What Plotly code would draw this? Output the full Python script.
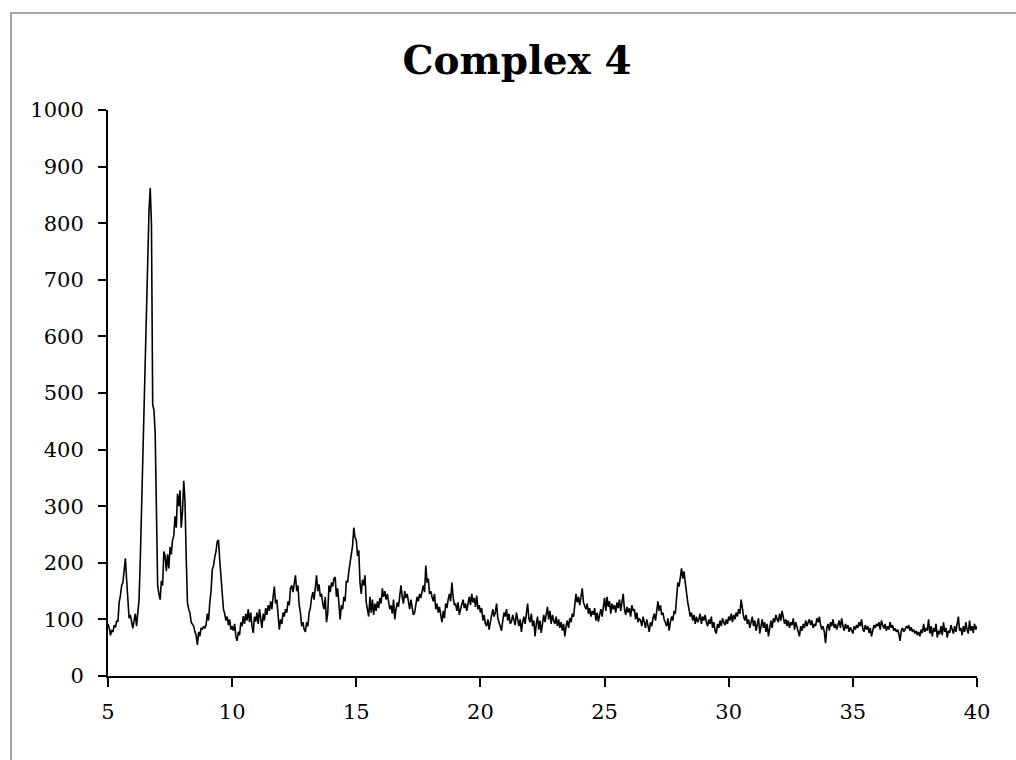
import plotly.graph_objects as go

# Powder XRD scan of complex 4: 2-theta from 5 to 40 deg, step 0.05 deg
two_theta_start = 5.0
two_theta_step = 0.05

# Intensity readings, one row per degree of 2-theta (20 readings each)
intensity_rows = [
    [92, 85, 72, 80, 78, 90, 86, 98, 96, 130, 142, 160, 165, 195, 208, 170, 125, 102, 108, 92],            # 5
    [84, 98, 110, 88, 112, 135, 205, 300, 365, 450, 550, 640, 720, 820, 862, 800, 480, 470, 430, 240],      # 6
    [160, 145, 135, 168, 160, 220, 212, 185, 215, 190, 228, 215, 240, 248, 282, 262, 322, 300, 328, 262],   # 7
    [290, 345, 310, 210, 130, 118, 112, 95, 92, 88, 78, 72, 55, 78, 70, 85, 82, 88, 84, 90],                # 8
    [110, 98, 130, 150, 188, 195, 210, 220, 238, 240, 205, 175, 150, 118, 110, 98, 105, 90, 100, 82],       # 9
    [88, 80, 92, 70, 62, 78, 72, 95, 88, 106, 92, 110, 98, 118, 95, 112, 88, 76, 105, 96],                  # 10
    [112, 92, 118, 100, 85, 110, 98, 120, 108, 125, 115, 132, 118, 140, 158, 128, 135, 108, 82, 100],       # 11
    [92, 112, 105, 118, 112, 132, 125, 155, 160, 148, 165, 178, 150, 160, 125, 112, 88, 95, 82, 78],        # 12
    [95, 88, 112, 120, 138, 148, 135, 165, 178, 150, 162, 140, 145, 128, 118, 140, 95, 110, 160, 148],      # 13
    [165, 158, 172, 175, 140, 155, 118, 100, 125, 118, 140, 132, 168, 165, 185, 200, 208, 230, 262, 245],   # 14
    [240, 212, 222, 165, 145, 170, 160, 178, 130, 115, 105, 140, 112, 135, 108, 128, 115, 132, 120, 138],   # 15
    [128, 155, 140, 150, 135, 145, 128, 118, 125, 110, 135, 100, 118, 130, 122, 148, 160, 140, 128, 150],   # 16
    [138, 145, 130, 118, 135, 120, 108, 112, 128, 140, 132, 145, 138, 150, 160, 148, 195, 165, 172, 145],   # 17
    [150, 140, 132, 145, 118, 128, 112, 122, 105, 95, 115, 102, 128, 120, 135, 145, 132, 165, 140, 125],    # 18
    [128, 115, 130, 108, 118, 125, 135, 120, 128, 115, 132, 140, 125, 145, 130, 138, 122, 142, 118, 125],   # 19
    [112, 120, 98, 108, 92, 88, 100, 82, 95, 110, 118, 105, 112, 128, 102, 95, 85, 80, 98, 112],            # 20
    [105, 118, 98, 110, 92, 96, 108, 100, 90, 112, 95, 88, 100, 78, 95, 105, 92, 115, 128, 102],            # 21
    [95, 110, 88, 98, 70, 92, 105, 82, 98, 76, 90, 108, 95, 112, 122, 100, 115, 92, 108, 98],               # 22
    [92, 105, 88, 100, 85, 95, 80, 92, 70, 88, 98, 85, 102, 95, 110, 105, 122, 145, 130, 140],              # 23
    [125, 138, 155, 130, 122, 118, 128, 110, 120, 105, 115, 108, 120, 98, 112, 96, 108, 118, 105, 128],     # 24
    [138, 115, 140, 122, 132, 110, 128, 118, 125, 112, 130, 120, 135, 115, 128, 145, 118, 108, 122, 112],   # 25
    [120, 105, 125, 115, 118, 100, 112, 95, 102, 98, 88, 105, 95, 85, 100, 90, 78, 95, 88, 102],            # 26
    [110, 98, 120, 132, 115, 125, 108, 112, 100, 95, 88, 102, 80, 95, 105, 98, 115, 110, 140, 165],         # 27
    [158, 175, 190, 172, 185, 165, 145, 130, 118, 105, 112, 98, 108, 92, 105, 95, 100, 110, 92, 105],       # 28
    [98, 108, 95, 88, 100, 92, 105, 85, 95, 80, 75, 92, 85, 98, 88, 102, 95, 90, 100, 92],                  # 29
    [105, 98, 110, 95, 108, 100, 112, 105, 118, 110, 135, 115, 105, 98, 108, 92, 100, 85, 95, 105],         # 30
    [88, 98, 80, 95, 102, 75, 90, 100, 85, 95, 78, 92, 70, 88, 98, 85, 102, 95, 108, 100],                  # 31
    [95, 110, 98, 115, 105, 92, 100, 88, 98, 85, 95, 90, 102, 82, 95, 85, 78, 70, 88, 80],                  # 32
    [92, 85, 98, 88, 95, 100, 90, 98, 85, 92, 88, 102, 95, 105, 90, 82, 88, 78, 58, 85],                    # 33
    [92, 80, 95, 88, 100, 85, 92, 82, 90, 98, 85, 102, 88, 80, 92, 84, 90, 78, 86, 80],                     # 34
    [75, 88, 82, 90, 85, 95, 88, 100, 84, 78, 90, 82, 88, 76, 85, 70, 82, 90, 85, 92],                      # 35
    [88, 95, 82, 98, 90, 84, 92, 80, 88, 82, 95, 85, 90, 80, 84, 78, 82, 75, 62, 80],                       # 36
    [85, 78, 82, 88, 84, 90, 80, 86, 78, 82, 75, 80, 72, 78, 70, 82, 76, 92, 78, 85],                       # 37
    [80, 100, 75, 88, 70, 85, 78, 92, 68, 80, 74, 88, 72, 95, 78, 85, 68, 80, 76, 90],                      # 38
    [82, 75, 88, 78, 92, 105, 80, 85, 72, 88, 78, 95, 82, 75, 98, 80, 88, 76, 92, 82],                      # 39
    [88],                                                                                                    # 40
]

y_tick_values = [0, 100, 200, 300, 400, 500, 600, 700, 800, 900, 1000]
x_tick_values = [5, 10, 15, 20, 25, 30, 35, 40]

intensity = [v for row in intensity_rows for v in row]
two_theta = [round(two_theta_start + i * two_theta_step, 2) for i in range(len(intensity))]

fig = go.Figure(
    go.Scatter(
        x=two_theta,
        y=intensity,
        mode="lines",
        line=dict(color="black", width=1.6),
        hoverinfo="x+y",
    )
)

# plot area geometry in pixels
W, H = 1016, 760
L, R, T, B = 108, 39, 110, 84
pw, ph = W - L - R, H - T - B


def px_to_paper_x(px):
    return (px - L) / pw


def px_to_paper_y(py):
    return (H - B - py) / ph


# grey outer frame of the chart
fig.add_shape(
    type="rect",
    xref="paper", yref="paper",
    x0=px_to_paper_x(11), x1=px_to_paper_x(1030),
    y0=px_to_paper_y(780), y1=px_to_paper_y(13),
    line=dict(color="#8a8a8a", width=1.5),
    fillcolor="rgba(0,0,0,0)",
    layer="below",
)

axis_font = dict(family="DejaVu Serif", size=21, color="black")

fig.update_layout(
    width=W,
    height=H,
    margin=dict(l=L, r=R, t=T, b=B),
    paper_bgcolor="white",
    plot_bgcolor="white",
    showlegend=False,
    title=dict(
        text="<b>Complex 4</b>",
        font=dict(family="DejaVu Serif", size=39, color="black"),
        x=px_to_paper_x(517),
        xref="paper",
        xanchor="center",
        y=1 - 60 / H,
        yref="container",
        yanchor="middle",
    ),
    xaxis=dict(
        range=[5, 40],
        tickvals=x_tick_values,
        showgrid=False,
        zeroline=False,
        showline=True,
        linecolor="black",
        linewidth=2,
        ticks="outside",
        ticklen=9,
        tickwidth=2,
        tickcolor="black",
        tickfont=axis_font,
        ticklabelstandoff=7,
    ),
    yaxis=dict(
        range=[0, 1000],
        tickvals=y_tick_values,
        showgrid=False,
        zeroline=False,
        showline=True,
        linecolor="black",
        linewidth=2,
        ticks="outside",
        ticklen=8,
        tickwidth=2,
        tickcolor="black",
        tickfont=axis_font,
        ticklabelstandoff=10,
    ),
)

fig.write_html("out.html")
